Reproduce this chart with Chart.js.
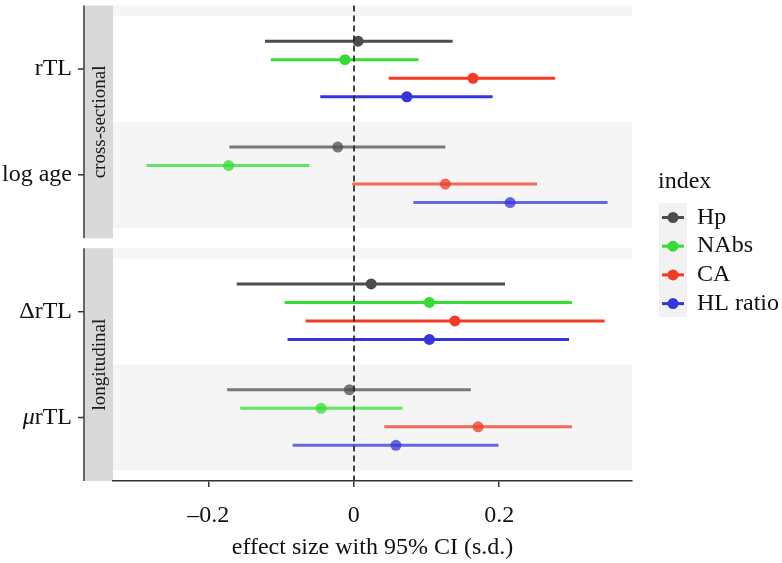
<!DOCTYPE html>
<html>
<head>
<meta charset="utf-8">
<script src="https://cdn.jsdelivr.net/npm/chart.js@4.4.1/dist/chart.umd.min.js"></script>
<style>
  html, body { margin: 0; padding: 0; background: #fff; }
  canvas { display: block; }
</style>
</head>
<body>
<canvas id="forest" width="782" height="563"></canvas>
<script>
// effect sizes (s.d.); rows are rTL, log age, ΔrTL, μrTL
const facets = ['cross-sectional', 'longitudinal'];
const rowLabels = ['rTL', 'log age', 'ΔrTL', 'μrTL'];
const seriesNames = ['Hp', 'NAbs', 'CA', 'HL ratio'];

const hpEst = [0.006, -0.022, 0.024, -0.006];
const hpLo = [-0.122, -0.171, -0.161, -0.174];
const hpHi = [0.136, 0.126, 0.208, 0.161];

const nabsEst = [-0.012, -0.172, 0.104, -0.045];
const nabsLo = [-0.114, -0.285, -0.095, -0.156];
const nabsHi = [0.089, -0.061, 0.300, 0.067];

const caEst = [0.164, 0.126, 0.139, 0.171];
const caLo = [0.048, -0.002, -0.066, 0.042];
const caHi = [0.277, 0.252, 0.345, 0.300];

const hlEst = [0.073, 0.215, 0.104, 0.058];
const hlLo = [-0.046, 0.082, -0.091, -0.084];
const hlHi = [0.191, 0.349, 0.296, 0.199];

const tickValues = [-0.2, 0, 0.2];
const xMin = -0.331, xMax = 0.3826;

const seriesColors = ['#4d4d4d', '#33dd33', '#f23a26', '#3535dc'];
const FONT = 'Liberation Serif';

// discrete y layout: 2 rows per facet, ggplot-like 0.6 expansion, small gap between facets
const facetStep = 2.294;
const yMin = -0.6, yMax = facetStep + 1.6;
const dodge = 0.175;
function rowPos(i) { return Math.floor(i / 2) * facetStep + (i % 2); }
function yPos(i, s) { return rowPos(i) + (s - 1.5) * dodge; }

function shade(s, row) {
    const hex = seriesColors[s];
    const a = row % 2 === 1 ? 0.75 : 1;
    const r = parseInt(hex.slice(1, 3), 16), g = parseInt(hex.slice(3, 5), 16), b = parseInt(hex.slice(5, 7), 16);
    return `rgba(${r},${g},${b},${a})`;
}

const est = [hpEst, nabsEst, caEst, hlEst];
const lo = [hpLo, nabsLo, caLo, hlLo];
const hi = [hpHi, nabsHi, caHi, hlHi];

const datasets = [];
seriesNames.forEach((name, s) => {
    datasets.push({
        label: name,
        type: 'line',
        showLine: false,
        data: est[s].map((v, i) => ({ x: v, y: yPos(i, s) })),
        pointRadius: 5.5,
        pointBorderWidth: 0,
        pointBackgroundColor: ctx => shade(s, ctx.dataIndex),
        order: 0
    });
    datasets.push({
        label: name + ' CI',
        type: 'line',
        data: lo[s].flatMap((v, i) => [
            { x: v, y: yPos(i, s) },
            { x: hi[s][i], y: yPos(i, s) },
            { x: null, y: null }
        ]),
        borderWidth: 3,
        pointRadius: 0,
        spanGaps: false,
        segment: { borderColor: ctx => shade(s, Math.floor(ctx.p0DataIndex / 3)) },
        order: 1
    });
});

const panelDecor = {
    id: 'panelDecor',
    beforeDraw(chart) {
        const { ctx, chartArea: ca, scales: { y } } = chart;
        ctx.save();
        ctx.fillStyle = '#fff';
        ctx.fillRect(0, 0, chart.width, chart.height);
        facets.forEach((f, k) => {
            const off = k * facetStep;
            const top = y.getPixelForValue(off - 0.6), bot = y.getPixelForValue(off + 1.6);
            ctx.fillStyle = '#f5f5f5';
            [[-0.6, -0.5], [0.5, 1.5]].forEach(([a, b]) => {
                const p0 = y.getPixelForValue(off + a), p1 = y.getPixelForValue(off + b);
                ctx.fillRect(ca.left, p0, ca.right - ca.left, p1 - p0);
            });
            // strip
            ctx.fillStyle = '#d9d9d9';
            ctx.fillRect(85, top, ca.left - 85, bot - top);
            ctx.save();
            ctx.translate((85 + ca.left) / 2, (top + bot) / 2);
            ctx.rotate(-Math.PI / 2);
            ctx.fillStyle = '#1a1a1a';
            ctx.font = `19px "${FONT}"`;
            ctx.textAlign = 'center';
            ctx.textBaseline = 'middle';
            ctx.fillText(f, 0, 1);
            ctx.restore();
        });
        ctx.restore();
    },
    afterDatasetsDraw(chart) {
        const { ctx, chartArea: ca, scales: { x } } = chart;
        const px = Math.round(x.getPixelForValue(0));
        ctx.save();
        ctx.strokeStyle = '#222';
        ctx.lineWidth = 1.7;
        ctx.setLineDash([6, 4]);
        ctx.beginPath();
        ctx.moveTo(px, ca.top);
        ctx.lineTo(px, ca.bottom);
        ctx.stroke();
        ctx.restore();
    },
    afterDraw(chart) {
        const { ctx, scales: { y } } = chart;
        ctx.save();
        // y axis lines and ticks
        ctx.strokeStyle = '#333';
        ctx.lineWidth = 1.5;
        facets.forEach((f, k) => {
            const off = k * facetStep;
            ctx.beginPath();
            ctx.moveTo(84, y.getPixelForValue(off - 0.6));
            ctx.lineTo(84, y.getPixelForValue(off + 1.6));
            ctx.stroke();
        });
        ctx.fillStyle = '#111';
        ctx.textBaseline = 'middle';
        rowLabels.forEach((lab, i) => {
            const py = y.getPixelForValue(rowPos(i));
            ctx.beginPath();
            ctx.moveTo(78, py);
            ctx.lineTo(84, py);
            ctx.stroke();
            ctx.font = `24px "${FONT}"`;
            ctx.textAlign = 'right';
            if (lab[0] === 'μ') {
                const rest = lab.slice(1);
                ctx.fillText(rest, 72, py);
                const w = ctx.measureText(rest).width;
                ctx.font = `italic 24px "${FONT}"`;
                ctx.fillText('μ', 72 - w, py);
            } else {
                ctx.fillText(lab, 72, py);
            }
        });
        // legend
        ctx.textAlign = 'left';
        ctx.font = `24px "${FONT}"`;
        ctx.fillText('index', 658, 182);
        ctx.fillStyle = '#f2f2f2';
        ctx.fillRect(659, 203, 28, 114);
        seriesNames.forEach((name, s) => {
            const ly = 217.5 + s * 28.7;
            ctx.strokeStyle = seriesColors[s];
            ctx.lineWidth = 3;
            ctx.beginPath();
            ctx.moveTo(662, ly);
            ctx.lineTo(684, ly);
            ctx.stroke();
            ctx.fillStyle = seriesColors[s];
            ctx.beginPath();
            ctx.arc(673, ly, 5.5, 0, Math.PI * 2);
            ctx.fill();
            ctx.fillStyle = '#111';
            ctx.fillText(name, 697, ly);
        });
        ctx.restore();
    }
};

new Chart(document.getElementById('forest'), {
    type: 'line',
    data: { datasets },
    options: {
        responsive: false,
        animation: false,
        events: [],
        devicePixelRatio: 1,
        layout: { padding: { left: 113, right: 150, top: 3, bottom: 0 } },
        plugins: { legend: { display: false }, tooltip: { enabled: false } },
        scales: {
            x: {
                type: 'linear',
                min: xMin,
                max: xMax,
                afterBuildTicks: sc => { sc.ticks = tickValues.map(v => ({ value: v })); },
                afterFit: sc => { sc.height = 82; },
                grid: { drawOnChartArea: false, drawTicks: true, tickLength: 6, color: '#333', lineWidth: 1.5 },
                border: { display: true, color: '#333', width: 1.5 },
                ticks: {
                    font: { family: FONT, size: 24 },
                    color: '#111',
                    padding: 14,
                    callback: v => v < 0 ? '–' + Math.abs(v) : String(v)
                },
                title: {
                    display: true,
                    text: 'effect size with 95% CI (s.d.)',
                    font: { family: FONT, size: 24 },
                    color: '#111',
                    padding: { top: 0, bottom: 1 }
                }
            },
            y: { type: 'linear', display: false, reverse: true, min: yMin, max: yMax }
        }
    },
    plugins: [panelDecor]
});
</script>
</body>
</html>
